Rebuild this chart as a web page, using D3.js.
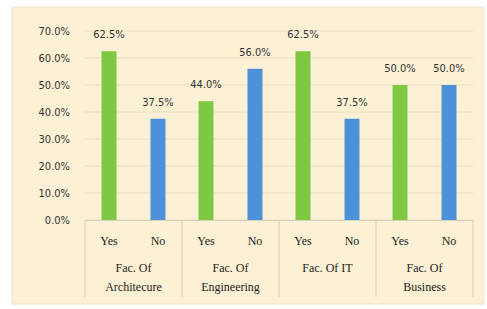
<!DOCTYPE html>
<html><head><meta charset="utf-8">
<script src="https://cdn.jsdelivr.net/npm/d3@7"></script>
<style>body{margin:0;background:#fff}svg{display:block}</style>
</head><body><svg id="c" width="487" height="309"></svg>
<script>
const categories = [["Fac. Of","Architecure"],["Fac. Of","Engineering"],["Fac. Of IT"],["Fac. Of","Business"]];
const answers = ["Yes","No"];
const yesValues = [62.5, 44.0, 62.5, 50.0];
const noValues = [37.5, 56.0, 37.5, 50.0];
const yTicks = [0,10,20,30,40,50,60,70];

const svg = d3.select("#c");
svg.append("rect").attr("x",12).attr("y",7).attr("width",472).attr("height",297)
  .attr("fill","#fdf1d5").attr("stroke","#ece4d0");

const pLeft=85, pRight=473, pTop=31, pBottom=220;
const x0 = d3.scaleBand().domain(d3.range(categories.length)).range([pLeft,pRight]);
const x1 = d3.scaleBand().domain(answers).range([0,x0.bandwidth()]).paddingInner(0.694).paddingOuter(0.337);
const y = d3.scaleLinear().domain([0,70]).range([pBottom,pTop]);

// gridlines
svg.append("g").selectAll("line").data(yTicks).join("line")
  .attr("x1",pLeft).attr("x2",pRight).attr("y1",d=>y(d)).attr("y2",d=>y(d))
  .attr("stroke","#eadfc3").attr("stroke-width",1);

// y axis labels
const yAxis = d3.axisLeft(y).tickValues(yTicks).tickFormat(d=>d.toFixed(1)+"%").tickSize(0).tickPadding(15);
const ya = svg.append("g").attr("transform",`translate(${pLeft},0)`).call(yAxis);
ya.select(".domain").remove();
ya.selectAll("text").attr("font-family","DejaVu Sans Condensed, DejaVu Sans").attr("font-size",11).attr("fill","#333");

const colors = {Yes:"#7ec843", No:"#4d92d8"};
const groups = svg.append("g").selectAll("g").data(categories).join("g")
  .attr("transform",(d,i)=>`translate(${x0(i)},0)`);
groups.each(function(c,i){
  const g = d3.select(this);
  const vals = [{a:"Yes",v:yesValues[i]},{a:"No",v:noValues[i]}];
  g.selectAll("rect").data(vals).join("rect")
    .attr("x",d=>x1(d.a)).attr("width",x1.bandwidth())
    .attr("y",d=>y(d.v)).attr("height",d=>y(0)-y(d.v))
    .attr("fill",d=>colors[d.a]);
  g.selectAll("text.v").data(vals).join("text").attr("class","v")
    .attr("x",d=>x1(d.a)+x1.bandwidth()/2).attr("y",d=>y(d.v)-13)
    .attr("text-anchor","middle").attr("font-family","DejaVu Sans Condensed, DejaVu Sans")
    .attr("font-size",11).attr("fill","#333").text(d=>d.v.toFixed(1)+"%");
  g.selectAll("text.a").data(vals).join("text").attr("class","a")
    .attr("x",d=>x1(d.a)+x1.bandwidth()/2).attr("y",245)
    .attr("text-anchor","middle").attr("font-family","Liberation Serif").attr("font-size",12)
    .attr("fill","#222").text(d=>d.a);
  g.selectAll("text.c").data(c).join("text").attr("class","c")
    .attr("x",x0.bandwidth()/2).attr("y",(d,j)=>272+j*19)
    .attr("text-anchor","middle").attr("font-family","Liberation Serif").attr("font-size",12)
    .attr("fill","#222").text(d=>d);
});

// category axis lines
svg.append("line").attr("x1",pLeft).attr("x2",pRight).attr("y1",pBottom+0.5).attr("y2",pBottom+0.5).attr("stroke","#d9d0bb");
svg.append("g").selectAll("line").data(d3.range(categories.length+1)).join("line")
  .attr("x1",i=>i<categories.length?x0(i):pRight).attr("x2",i=>i<categories.length?x0(i):pRight)
  .attr("y1",pBottom).attr("y2",297).attr("stroke","#d9d0bb");
</script></body></html>
